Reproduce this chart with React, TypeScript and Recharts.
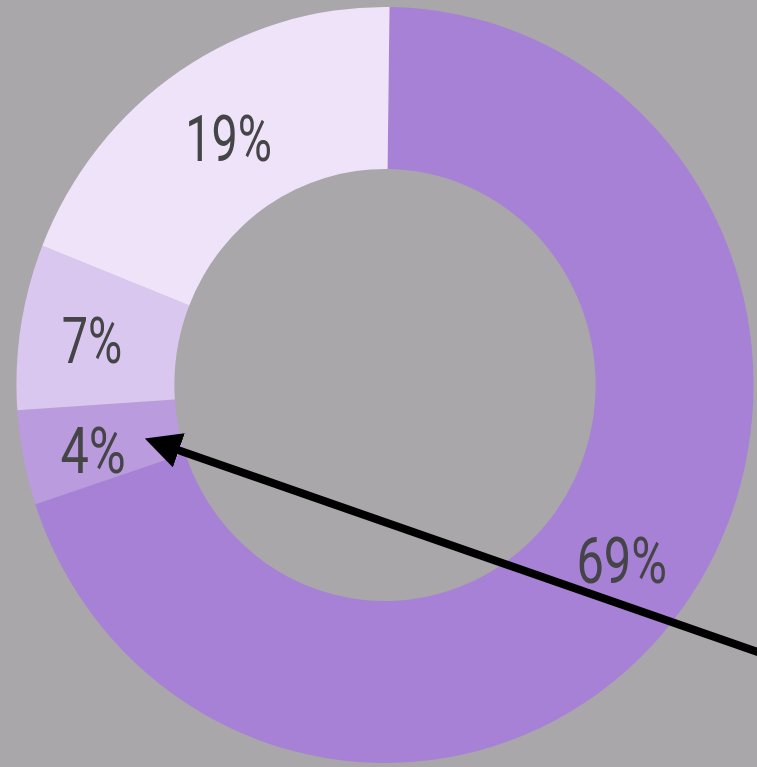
import { PieChart, Pie, Cell } from 'recharts';

const labels = ['69%', '4%', '7%', '19%'];
const values = [69, 4, 7, 19];
const colors = ['#a681d6', '#b99bde', '#d9c7ef', '#eee3f8'];
const labelWidths = [93, 67, 62, 89];

const data = labels.map((name, i) => ({ name, value: values[i] }));

const RADIAN = Math.PI / 180;
// small nudges so labels sit where the original placed them
const nudge = [
  [3, 2],
  [-8, 10],
  [-7, 3],
  [5, 2],
];

const renderLabel = (props: any) => {
  const { cx, cy, midAngle, innerRadius, outerRadius, index } = props;
  const r = (innerRadius + outerRadius) / 2;
  const x = cx + r * Math.cos(-midAngle * RADIAN) + nudge[index][0];
  const y = cy + r * Math.sin(-midAngle * RADIAN) + nudge[index][1];
  return (
    <text
      x={x}
      y={y + 21}
      textAnchor="middle"
      fill="#454547"
      fontSize={64}
      fontFamily="Roboto, sans-serif"
      textLength={labelWidths[index]}
      lengthAdjust="spacingAndGlyphs"
    >
      {labels[index]}
    </text>
  );
};

export default function App() {
  return (
    <div
      style={{
        position: 'absolute',
        left: 0,
        top: 0,
        width: 757,
        height: 767,
        background: '#aaa7aa',
        overflow: 'hidden',
      }}
    >
      {/* the original ring is a touch narrower than it is tall */}
      <div style={{ width: 800, transform: 'scaleX(0.975)', transformOrigin: '385px 385px' }}>
        <PieChart width={800} height={767} margin={{ top: 0, right: 0, bottom: 0, left: 0 }}>
          <Pie
            data={data}
            dataKey="value"
            cx={385}
            cy={385}
            innerRadius={216}
            outerRadius={378}
            startAngle={89.3}
            endAngle={-270.7}
            stroke="none"
            label={renderLabel}
            labelLine={false}
            isAnimationActive={false}
          >
            {data.map((d, i) => (
              <Cell key={d.name} fill={colors[i]} />
            ))}
          </Pie>
        </PieChart>
      </div>
      {/* annotation arrow */}
      <svg
        width={757}
        height={767}
        style={{ position: 'absolute', left: 0, top: 0, pointerEvents: 'none' }}
      >
        <defs>
          <marker
            id="head"
            viewBox="0 0 10 10"
            refX="2"
            refY="5"
            markerWidth="4.5"
            markerHeight="4.5"
            orient="auto-start-reverse"
          >
            <path d="M0,0 L10,5 L0,10 z" fill="#000" />
          </marker>
        </defs>
        <line
          x1={775}
          y1={658}
          x2={172}
          y2={448}
          stroke="#000"
          strokeWidth={8}
          markerEnd="url(#head)"
        />
      </svg>
    </div>
  );
}
